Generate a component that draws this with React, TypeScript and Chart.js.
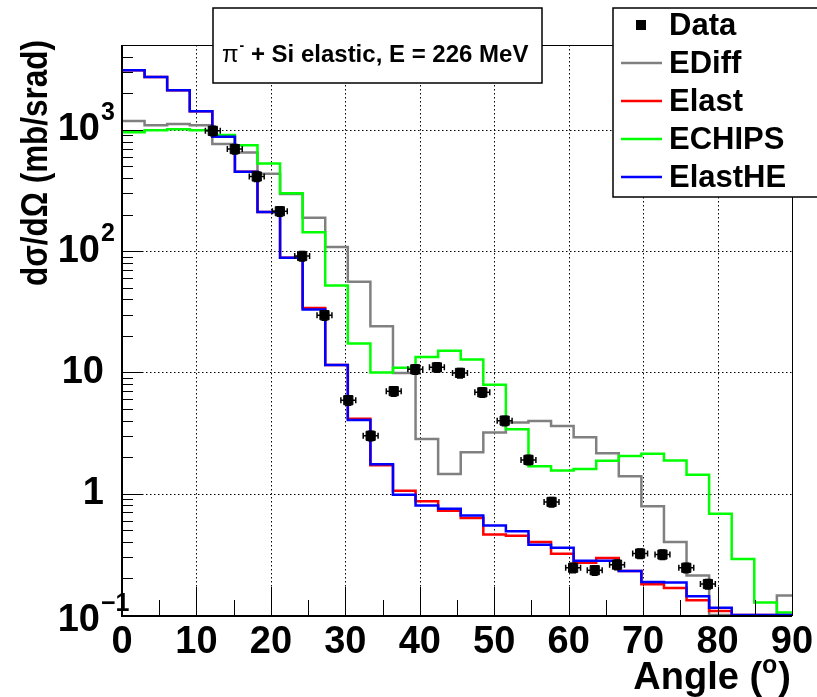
import React, { useEffect, useRef } from 'react';
import { Chart, registerables } from 'chart.js';

Chart.register(...registerables);

// ---- Histogram binning (30 bins from 0 to 91 deg) ----
const histMin = 0;
const histMax = 91;
const nBins = 30;

// ---- Model histograms (dσ/dΩ per bin, mb/srad) ----
const ediff = [1183, 1090, 1117, 1090, 762, 650, 435, 295, 188, 108, 56, 24, 9.9, 2.83, 1.45, 2.2, 3.19, 3.87, 3.98, 3.62, 2.92, 2.16, 1.39, 0.787, 0.4, 0.212, 0.1, 0.05, 0.05, 0.145];
const elast = [3090, 2720, 2115, 1420, 875, 451, 210, 88, 34, 11.5, 4.15, 1.72, 1.06, 0.865, 0.725, 0.63, 0.46, 0.45, 0.4, 0.32, 0.27, 0.295, 0.23, 0.179, 0.167, 0.132, 0.108, 0.1, 0.1, 0.1];
const echips = [956, 993, 1011, 993, 905, 745, 528, 300, 143, 52, 17.3, 10.0, 10.9, 13.4, 15.1, 12.8, 7.9, 3.4, 1.68, 1.55, 1.6, 1.87, 2.05, 2.13, 1.88, 1.43, 0.685, 0.29, 0.127, 0.105];
const elastHE = [3090, 2720, 2115, 1420, 875, 451, 210, 88, 33, 11.5, 4.05, 1.75, 0.98, 0.8, 0.75, 0.66, 0.546, 0.49, 0.38, 0.358, 0.28, 0.28, 0.23, 0.187, 0.185, 0.143, 0.115, 0.1, 0.1, 0.1];

// ---- Measured data ----
const dataAngle = [12.2, 15.15, 18.1, 21.2, 24.2, 27.2, 30.4, 33.4, 36.5, 39.4, 42.3, 45.4, 48.4, 51.4, 54.6, 57.7, 60.6, 63.5, 66.5, 69.6, 72.6, 75.8, 78.7];
const dataXsec = [980, 693, 412, 213, 91, 29.6, 5.9, 3.0, 7.0, 10.6, 11.0, 9.9, 6.85, 4.0, 1.9, 0.855, 0.245, 0.234, 0.26, 0.321, 0.315, 0.245, 0.18];
const dataAngleErr = 1.0;
const dataRelErr = 0.09;

// ---- Axes ----
const xMin = 0;
const xMax = 90;
const yMin = 0.1;
const yMax = 5000;
const xMajorTicks = [0, 10, 20, 30, 40, 50, 60, 70, 80, 90];
const xMinorTicks = [5, 15, 25, 35, 45, 55, 65, 75, 85];
const yMajorTicks = [0.1, 1, 10, 100, 1000];
const yTickBase = ['10', '1', '10', '10', '10'];
const yTickExp = ['\u22121', '', '', '2', '3'];
const yMinorMultipliers = [2, 3, 4, 5, 6, 7, 8, 9];

const titleText = ' + Si elastic, E = 226 MeV';
const xTitle = 'Angle (';
const yTitle = 'd\u03c3/d\u03a9 (mb/srad)';

const FONT = '"Liberation Sans", Arial, Helvetica, sans-serif';

function steps(values: number[]) {
  const w = (histMax - histMin) / nBins;
  const pts = values.map((v, i) => ({ x: histMin + i * w, y: v }));
  pts.push({ x: histMin + values.length * w, y: values[values.length - 1] });
  return pts;
}

const rootStyle = {
  id: 'rootStyle',
  beforeDatasetsDraw(chart: any) {
    const { ctx, chartArea: a, scales } = chart;
    const xs = scales.x, ys = scales.y;
    ctx.save();
    ctx.strokeStyle = '#000';
    ctx.lineWidth = 1;
    ctx.setLineDash([1.5, 2.5]);
    for (const t of xMajorTicks) {
      if (t <= xMin || t >= xMax) continue;
      const px = Math.round(xs.getPixelForValue(t)) + 0.5;
      ctx.beginPath(); ctx.moveTo(px, a.top); ctx.lineTo(px, a.bottom); ctx.stroke();
    }
    for (const t of yMajorTicks) {
      if (t <= yMin || t >= yMax) continue;
      const py = Math.round(ys.getPixelForValue(t)) + 0.5;
      ctx.beginPath(); ctx.moveTo(a.left, py); ctx.lineTo(a.right, py); ctx.stroke();
    }
    ctx.restore();
  },
  afterDatasetsDraw(chart: any) {
    const { ctx, scales } = chart;
    const xs = scales.x, ys = scales.y;
    ctx.save();
    ctx.strokeStyle = '#000';
    ctx.lineWidth = 1.5;
    dataAngle.forEach((ang, i) => {
      const v = dataXsec[i];
      const px = xs.getPixelForValue(ang);
      const py = ys.getPixelForValue(v);
      const x0 = xs.getPixelForValue(ang - dataAngleErr);
      const x1 = xs.getPixelForValue(ang + dataAngleErr);
      const y0 = ys.getPixelForValue(v * (1 - dataRelErr));
      const y1 = ys.getPixelForValue(v * (1 + dataRelErr));
      ctx.beginPath();
      ctx.moveTo(x0, py); ctx.lineTo(x1, py);
      ctx.moveTo(x0, py - 3); ctx.lineTo(x0, py + 3);
      ctx.moveTo(x1, py - 3); ctx.lineTo(x1, py + 3);
      ctx.moveTo(px, y0); ctx.lineTo(px, y1);
      ctx.moveTo(px - 3, y0); ctx.lineTo(px + 3, y0);
      ctx.moveTo(px - 3, y1); ctx.lineTo(px + 3, y1);
      ctx.stroke();
    });
    ctx.restore();
  },
  afterDraw(chart: any) {
    const { ctx, chartArea: a, scales } = chart;
    const xs = scales.x, ys = scales.y;
    ctx.save();
    // frame
    ctx.strokeStyle = '#000';
    ctx.lineWidth = 1;
    ctx.strokeRect(a.left + 0.5, a.top + 0.5, a.right - a.left, a.bottom - a.top);
    ctx.lineWidth = 2;
    ctx.beginPath();
    ctx.moveTo(a.left, a.top); ctx.lineTo(a.left, a.bottom + 1); ctx.lineTo(a.right, a.bottom + 1);
    ctx.stroke();
    // x ticks
    ctx.lineWidth = 1;
    for (const t of xMajorTicks) {
      const px = Math.round(xs.getPixelForValue(t)) + 0.5;
      ctx.beginPath(); ctx.moveTo(px, a.bottom); ctx.lineTo(px, a.bottom - 28); ctx.stroke();
    }
    for (const t of xMinorTicks) {
      const px = Math.round(xs.getPixelForValue(t)) + 0.5;
      ctx.beginPath(); ctx.moveTo(px, a.bottom); ctx.lineTo(px, a.bottom - 15); ctx.stroke();
    }
    // y ticks
    for (const t of yMajorTicks) {
      const py = Math.round(ys.getPixelForValue(t)) + 0.5;
      ctx.beginPath(); ctx.moveTo(a.left, py); ctx.lineTo(a.left + 20, py); ctx.stroke();
      for (const m of yMinorMultipliers) {
        const v = t * m;
        if (v >= yMax) continue;
        const pm = Math.round(ys.getPixelForValue(v)) + 0.5;
        ctx.beginPath(); ctx.moveTo(a.left, pm); ctx.lineTo(a.left + 11, pm); ctx.stroke();
      }
    }
    // x tick labels
    ctx.fillStyle = '#000';
    ctx.font = `bold 38px ${FONT}`;
    ctx.textAlign = 'center';
    ctx.textBaseline = 'alphabetic';
    for (const t of xMajorTicks) {
      ctx.fillText(String(t), xs.getPixelForValue(t), a.bottom + 38);
    }
    // y tick labels
    yMajorTicks.forEach((t, i) => {
      let py = ys.getPixelForValue(t);
      if (i === 0) py += 6;
      const base = yTickBase[i];
      const exp = yTickExp[i];
      ctx.textBaseline = 'middle';
      if (exp) {
        ctx.font = `bold 38px ${FONT}`;
        ctx.textAlign = 'right';
        ctx.fillText(base, 100, py);
        ctx.font = `bold 25px ${FONT}`;
        ctx.textAlign = 'left';
        ctx.fillText(exp, 101, py - 17);
      } else {
        ctx.font = `bold 38px ${FONT}`;
        ctx.textAlign = 'right';
        ctx.fillText(base, 104, py);
      }
    });
    // x axis title
    ctx.textBaseline = 'alphabetic';
    ctx.textAlign = 'left';
    const close = ')';
    ctx.font = `bold 25px ${FONT}`;
    const wSup = ctx.measureText('o').width;
    ctx.font = `bold 38px ${FONT}`;
    const wMain = ctx.measureText(xTitle).width;
    const wClose = ctx.measureText(close).width;
    const xEnd = 791;
    const xStart = xEnd - wClose - wSup - 1 - wMain;
    ctx.fillText(xTitle, xStart, 689);
    ctx.font = `bold 25px ${FONT}`;
    ctx.fillText('o', xStart + wMain, 673);
    ctx.font = `bold 38px ${FONT}`;
    ctx.fillText(close, xStart + wMain + wSup + 1, 689);
    // y axis title (fit to the measured length)
    ctx.save();
    ctx.font = `bold 37px ${FONT}`;
    const wy = ctx.measureText(yTitle).width;
    const targetLen = 246;
    ctx.translate(47, 40);
    ctx.rotate(-Math.PI / 2);
    ctx.scale(targetLen / wy, 1);
    ctx.textAlign = 'right';
    ctx.textBaseline = 'alphabetic';
    ctx.fillText(yTitle, 0, 0);
    ctx.restore();

    // title box
    ctx.fillStyle = '#fff';
    ctx.fillRect(213, 8, 329, 75);
    ctx.strokeStyle = '#000';
    ctx.lineWidth = 1.5;
    ctx.strokeRect(213, 8, 329, 75);
    ctx.fillStyle = '#000';
    ctx.textAlign = 'left';
    ctx.textBaseline = 'alphabetic';
    let tx = 222;
    ctx.font = `24px ${FONT}`;
    ctx.fillText('\u03c0', tx, 62);
    tx += ctx.measureText('\u03c0').width + 1;
    ctx.font = `bold 14px ${FONT}`;
    ctx.fillText('-', tx, 50);
    tx += ctx.measureText('-').width;
    ctx.font = `bold 24px ${FONT}`;
    ctx.fillText(titleText, tx, 62);

    // legend box
    ctx.fillStyle = '#fff';
    ctx.fillRect(613, 8, 240, 189);
    ctx.strokeStyle = '#000';
    ctx.lineWidth = 1.5;
    ctx.strokeRect(613, 8, 240, 189);
    const legendOrder = [0, 4, 3, 2, 1];
    legendOrder.forEach((di, k) => {
      const ds = chart.data.datasets[di];
      const ly = 25 + k * 38;
      if (di === 0) {
        ctx.fillStyle = '#000';
        ctx.fillRect(636, ly - 5, 10, 10);
      } else {
        ctx.strokeStyle = ds.borderColor;
        ctx.lineWidth = 2.5;
        ctx.beginPath(); ctx.moveTo(621, ly); ctx.lineTo(662, ly); ctx.stroke();
      }
      ctx.fillStyle = '#000';
      ctx.font = `bold 31px ${FONT}`;
      ctx.textAlign = 'left';
      ctx.textBaseline = 'middle';
      ctx.fillText(ds.label, 669, ly + 1);
    });
    ctx.restore();
  },
};

export default function App() {
  const ref = useRef<HTMLCanvasElement>(null);
  useEffect(() => {
    if (!ref.current) return;
    const line = (label: string, values: number[], color: string, order: number) => ({
      type: 'line' as const,
      label,
      data: steps(values),
      borderColor: color,
      backgroundColor: color,
      borderWidth: 2.5,
      stepped: 'before' as const,
      pointRadius: 0,
      fill: false,
      order,
    });
    const chart = new Chart(ref.current, {
      type: 'line',
      data: {
        datasets: [
          {
            type: 'scatter' as const,
            label: 'Data',
            data: dataAngle.map((x, i) => ({ x, y: dataXsec[i] })),
            pointStyle: 'rect',
            pointRadius: 6.5,
            pointBorderWidth: 1,
            borderColor: '#000',
            backgroundColor: '#000',
            showLine: false,
            order: 0,
          } as any,
          line('ElastHE', elastHE, '#0000ff', 1),
          line('ECHIPS', echips, '#00ff00', 2),
          line('Elast', elast, '#ff0000', 3),
          line('EDiff', ediff, '#808080', 4),
        ],
      },
      options: {
        responsive: false,
        maintainAspectRatio: false,
        animation: false,
        devicePixelRatio: 1,
        events: [],
        layout: { padding: { left: 122, right: 25, top: 45, bottom: 82 } },
        plugins: {
          legend: { display: false },
          tooltip: { enabled: false },
          title: { display: false },
        },
        scales: {
          x: { type: 'linear', min: xMin, max: xMax, display: false },
          y: { type: 'logarithmic', min: yMin, max: yMax, display: false },
        },
      },
      plugins: [rootStyle],
    });
    return () => chart.destroy();
  }, []);
  return (
    <div style={{ position: 'fixed', left: 0, top: 0, width: 817, height: 697, background: '#fff' }}>
      <canvas ref={ref} width={817} height={697} style={{ display: 'block' }} />
    </div>
  );
}
